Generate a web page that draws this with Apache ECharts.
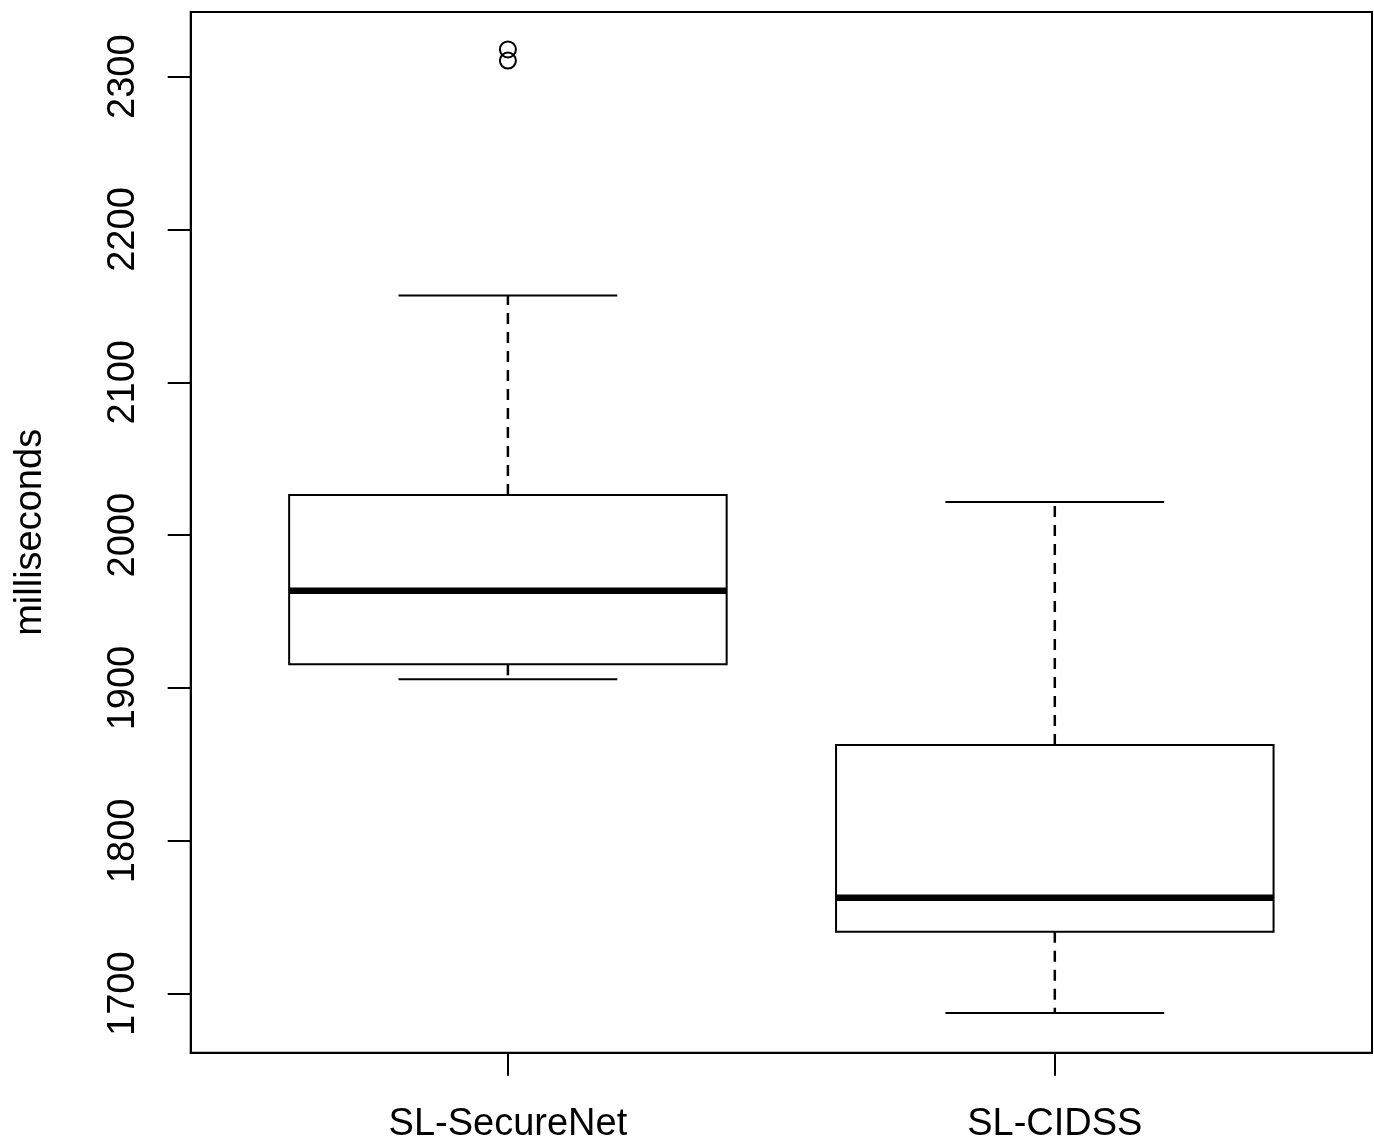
<!DOCTYPE html>
<html>
<head>
<meta charset="utf-8">
<script src="https://cdn.jsdelivr.net/npm/echarts@6/dist/echarts.min.js"></script>
<style>
html,body{margin:0;padding:0;background:#fff;}
#chart{width:1374px;height:1144px;}
</style>
</head>
<body>
<div id="chart"></div>
<script>
// Data
const categories = ['SL-SecureNet', 'SL-CIDSS'];
const lowerWhisker = [1905.7, 1687.3];
const q1Values = [1915.5, 1740.6];
const medianValues = [1963.6, 1762.7];
const q3Values = [2026.3, 1862.7];
const upperWhisker = [2156.8, 2021.7];
const outlierGroup = [1, 1];
const outlierValues = [2317.8, 2310.5];
const yTickValues = [1700, 1800, 1900, 2000, 2100, 2200, 2300];
const yAxisName = 'milliseconds';

const boxData = categories.map((c, i) => [i + 1, lowerWhisker[i], q1Values[i], medianValues[i], q3Values[i], upperWhisker[i]]);
const outlierData = outlierValues.map((v, i) => [outlierGroup[i], v]);

const FONT = '"Liberation Sans", Arial, sans-serif';
const chart = echarts.init(document.getElementById('chart'), null, {renderer: 'canvas'});

chart.setOption({
  animation: false,
  backgroundColor: '#fff',
  grid: {
    left: 190.7, right: 2, top: 12, bottom: 91.3,
    show: true, borderColor: '#000', borderWidth: 2, backgroundColor: 'transparent'
  },
  xAxis: {
    type: 'value', min: 0.42, max: 2.58,
    splitLine: {show: false},
    axisLine: {show: true, lineStyle: {color: '#000', width: 2}},
    axisTick: {show: true, customValues: [1, 2], length: 23, lineStyle: {color: '#000', width: 2}},
    axisLabel: {
      show: true, customValues: [1, 2], margin: 53,
      formatter: v => categories[Math.round(v) - 1] || '',
      fontFamily: FONT, fontSize: 38, color: '#000'
    }
  },
  yAxis: {
    type: 'value', min: 1661.4, max: 2342.3,
    name: yAxisName, nameLocation: 'middle', nameGap: 141, nameRotate: 90,
    nameTextStyle: {fontFamily: FONT, fontSize: 38, color: '#000'},
    splitLine: {show: false},
    axisLine: {show: true, lineStyle: {color: '#000', width: 2}},
    axisTick: {show: true, customValues: yTickValues, length: 23, lineStyle: {color: '#000', width: 2}},
    axisLabel: {
      show: true, customValues: yTickValues, rotate: 90, margin: 48,
      formatter: v => String(v),
      fontFamily: FONT, fontSize: 38, color: '#000'
    }
  },
  series: [
    {
      type: 'custom',
      data: boxData,
      encode: {x: 0, y: [1, 2, 3, 4, 5]},
      renderItem: function (params, api) {
        const x = api.value(0);
        const lo = api.value(1), q1 = api.value(2), med = api.value(3), q3 = api.value(4), hi = api.value(5);
        const half = 0.4, capHalf = 0.2;
        const tl = api.coord([x - half, q3]);
        const br = api.coord([x + half, q1]);
        const mL = api.coord([x - half, med]);
        const mR = api.coord([x + half, med]);
        const c = api.coord([x, 0]);
        const yHi = api.coord([x, hi])[1];
        const yLo = api.coord([x, lo])[1];
        const capL = api.coord([x - capHalf, hi])[0];
        const capR = api.coord([x + capHalf, hi])[0];
        const cx = c[0];
        const solid = {stroke: '#000', lineWidth: 2, fill: null};
        const dashed = {stroke: '#000', lineWidth: 2.5, lineDash: [11, 8], fill: null};
        return {
          type: 'group',
          children: [
            {type: 'line', shape: {x1: cx, y1: tl[1], x2: cx, y2: yHi}, style: dashed},
            {type: 'line', shape: {x1: cx, y1: br[1], x2: cx, y2: yLo}, style: dashed},
            {type: 'line', shape: {x1: capL, y1: yHi, x2: capR, y2: yHi}, style: solid},
            {type: 'line', shape: {x1: capL, y1: yLo, x2: capR, y2: yLo}, style: solid},
            {type: 'rect', shape: {x: tl[0], y: tl[1], width: br[0] - tl[0], height: br[1] - tl[1]},
              style: {stroke: '#000', lineWidth: 2, fill: '#fff'}},
            {type: 'line', shape: {x1: mL[0], y1: mL[1], x2: mR[0], y2: mR[1]},
              style: {stroke: '#000', lineWidth: 6.5}}
          ]
        };
      }
    },
    {
      type: 'scatter',
      data: outlierData,
      symbol: 'circle',
      symbolSize: 16,
      itemStyle: {color: 'rgba(0,0,0,0)', borderColor: '#000', borderWidth: 2, opacity: 1}
    }
  ]
});
</script>
</body>
</html>
